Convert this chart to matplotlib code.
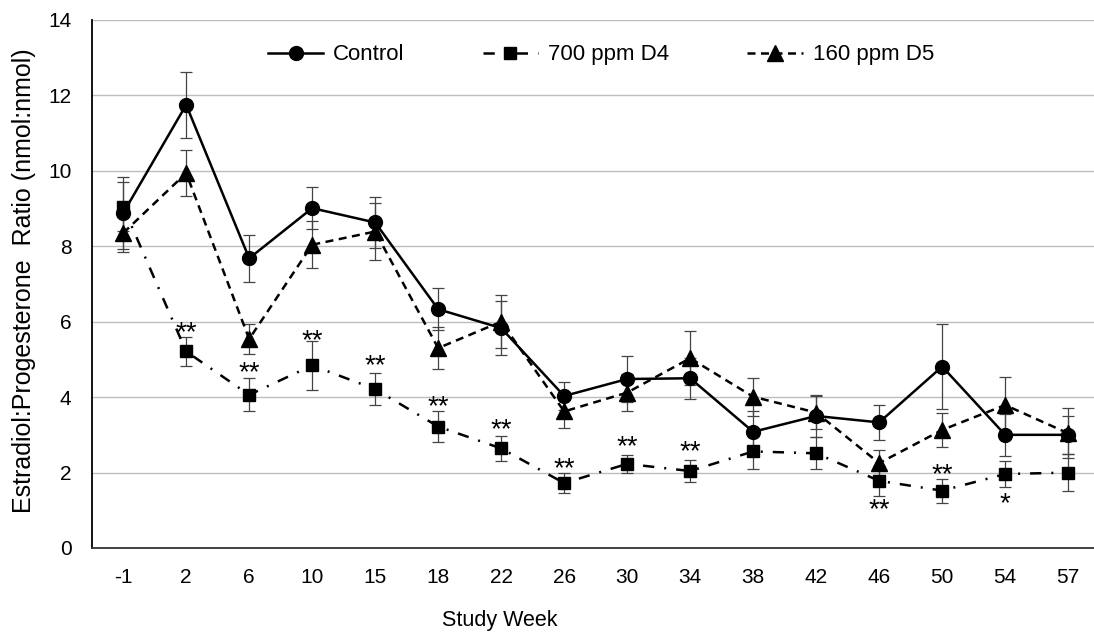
import matplotlib.pyplot as plt
import numpy as np

plt.rcParams["font.family"] = ["Liberation Sans", "DejaVu Sans"]

weeks = ["-1", "2", "6", "10", "15", "18", "22", "26", "30", "34", "38", "42", "46", "50", "54", "57"]

control = [8.88, 11.75, 7.68, 9.01, 8.63, 6.33, 5.83, 4.03, 4.48, 4.50, 3.08, 3.50, 3.33, 4.81, 3.00, 3.00]
control_se = [0.95, 0.88, 0.62, 0.56, 0.68, 0.56, 0.72, 0.38, 0.60, 0.55, 0.56, 0.55, 0.47, 1.12, 0.55, 0.50]

d4 = [9.05, 5.21, 4.06, 4.84, 4.21, 3.22, 2.64, 1.72, 2.23, 2.04, 2.56, 2.51, 1.78, 1.52, 1.96, 2.00]
d4_se = [0.65, 0.38, 0.44, 0.64, 0.43, 0.40, 0.33, 0.27, 0.24, 0.29, 0.46, 0.42, 0.39, 0.32, 0.35, 0.50]

d5 = [8.35, 9.94, 5.54, 8.04, 8.39, 5.30, 6.00, 3.62, 4.12, 5.03, 4.01, 3.59, 2.25, 3.13, 3.79, 3.04]
d5_se = [0.50, 0.60, 0.40, 0.62, 0.75, 0.55, 0.70, 0.45, 0.50, 0.71, 0.51, 0.43, 0.35, 0.46, 0.75, 0.66]

# significance marks on the D4 series (week index, label, y of the mark)
sig_idx = [1, 2, 3, 4, 5, 6, 7, 8, 9, 12, 13, 14]
sig_text = ["**", "**", "**", "**", "**", "**", "**", "**", "**", "**", "**", "*"]
sig_y = [5.80, 4.75, 5.60, 4.92, 3.84, 3.24, 2.20, 2.79, 2.64, 1.10, 2.05, 1.27]

x = np.arange(len(weeks))

fig = plt.figure(figsize=(10.94, 6.36), dpi=100)
ax = fig.add_axes([0.0838, 0.1384, 0.9162, 0.8302])

eb = dict(fmt="none", ecolor="#444444", elinewidth=0.9, capsize=4.3, capthick=0.9, zorder=2)
ax.errorbar(x, control, yerr=control_se, **eb)
ax.errorbar(x, d4, yerr=d4_se, **eb)
ax.errorbar(x, d5, yerr=d5_se, **eb)

l1, = ax.plot(x, control, color="black", lw=1.8, marker="o", ms=10, ls="-", zorder=3)
l2, = ax.plot(x, d4, color="black", lw=1.8, marker="s", ms=8.5, ls=(0, (4.5, 4, 0.8, 4)), zorder=3)
l3, = ax.plot(x, d5, color="black", lw=1.8, marker="^", ms=11, ls=(0, (3.2, 2.2)), zorder=3)

for i, s, y in zip(sig_idx, sig_text, sig_y):
    ax.annotate(s, (x[i], y), xytext=(0, -8), textcoords="offset points",
                ha="center", va="baseline", fontsize=20, zorder=4)

ax.set_xlim(-0.5, 15.41)
ax.set_ylim(0, 14)
ax.set_yticks(np.arange(0, 15, 2))
ax.set_xticks(x)
ax.set_xticklabels(weeks)
ax.tick_params(length=0, labelsize=15, pad=14.5)
ax.grid(axis="y", color="#bdbdbd", lw=1.0)
ax.set_axisbelow(True)

for side in ["top", "right"]:
    ax.spines[side].set_visible(False)
ax.spines["left"].set_linewidth(1.3)
ax.spines["bottom"].set_linewidth(1.3)
ax.spines["bottom"].set_color("#333333")

ax.set_xlabel("Study Week", fontsize=15.5)
ax.xaxis.set_label_coords(0.407, -0.118)
ax.set_ylabel("Estradiol:Progesterone  Ratio (nmol:nmol)", fontsize=18)
ax.yaxis.set_label_coords(-0.056, 0.506)

ax.legend([l1, l2, l3], ["Control", "700 ppm D4", "160 ppm D5"], loc="center",
          bbox_to_anchor=(0.508, 0.934), ncol=3, frameon=False, fontsize=16,
          handlelength=2.5, handletextpad=0.45, columnspacing=3.5)

fig.savefig("out.png", dpi=100)
